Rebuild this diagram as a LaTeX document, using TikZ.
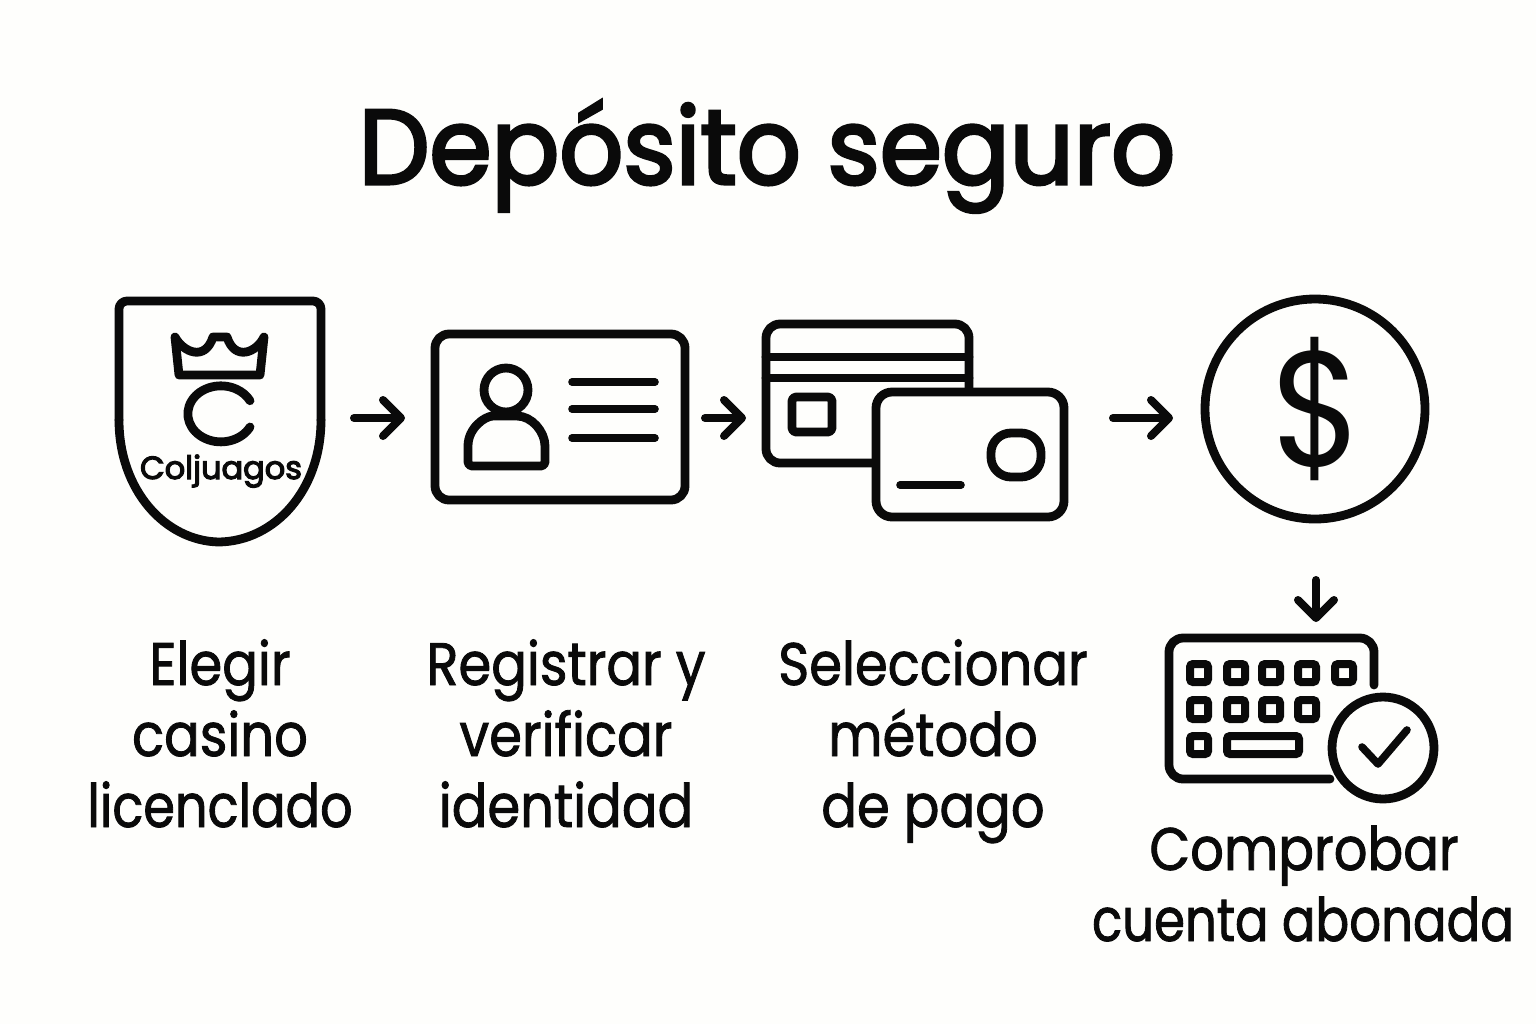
\documentclass[tikz,border=0pt]{standalone}
\usepackage{fontspec}
\setmainfont{Poppins}
\newfontfamily\titlefont{Poppins}[FakeBold=3.0,FakeStretch=0.945]
\newfontfamily\labelfont{Poppins}[FakeBold=1.4,FakeStretch=0.88]
\newfontfamily\narrowlabelfont{Poppins}[FakeBold=1.4,FakeStretch=0.85]
\newfontfamily\widelabelfont{Poppins}[FakeBold=1.4,FakeStretch=0.83]
\newfontfamily\brandfont{Poppins}[FakeBold=3.6,FakeStretch=1.0]
\newfontfamily\coinfont{Poppins}[FakeStretch=0.9]
\usetikzlibrary{arrows.meta}
\definecolor{bg}{HTML}{FEFEFC}
\definecolor{ink}{HTML}{0A0A0A}
\tikzset{
  px/.style={x=0.5pt,y=-0.5pt},
  icon/.style={draw=ink,line width=4.4pt,line join=round,line cap=round},
  thinicon/.style={draw=ink,line width=3.8pt,line join=round,line cap=round},
  flow/.style={draw=ink,line width=4pt,line cap=round,line join=round,-{Straight Barb[length=9pt,width=18pt,line cap=round,line join=round]}},
  keycap/.style={draw=ink,line width=4pt,rounded corners=1.5pt},
  lbl/.style={text=ink,font=\labelfont\fontsize{30}{36}\selectfont,align=center,inner sep=0pt,anchor=base},
  lblnarrow/.style={lbl,font=\narrowlabelfont\fontsize{30}{36}\selectfont},
  lblwide/.style={lbl,font=\widelabelfont\fontsize{30}{36}\selectfont},
}
\begin{document}
\begin{tikzpicture}[px]
\useasboundingbox[fill=bg] (0,0) rectangle (1536,1024);
% title
\node[text=ink,font=\titlefont\fontsize{53}{60}\selectfont,inner sep=0pt,anchor=base] (title) at (767,184) {Depósito seguro};
% shield
\draw[icon,rounded corners=4pt] (119,420) -- (119,301) -- (321,301) -- (321,420);
\draw[icon] (321,420) .. controls (321,490) and (275,541) .. (219,542) .. controls (165,541) and (119,490) .. (119,420);
\draw[icon] (175,337) .. controls (183,352) and (205,362) .. (213,337) -- (227,337) .. controls (235,362) and (257,352) .. (264,337) -- (260,375) -- (179,375) -- cycle;
\draw[icon] (250,427) arc[start angle=28,end angle=332,x radius=33,y radius=28];
\node[text=ink,font=\brandfont\fontsize{16}{18}\selectfont,inner sep=0pt,anchor=base] (brand) at (221,479) {Coljuagos};
% id card
\draw[icon,rounded corners=7pt] (435,334) rectangle (685,500);
\draw[icon] (506,390) circle[radius=22];
\draw[icon,rounded corners=2pt] (468,466) -- (468,450) .. controls (468,428) and (485,416) .. (497,416) -- (513,416) .. controls (532,416) and (545,432) .. (545,450) -- (545,466) -- cycle;
\draw[thinicon] (572,382) -- (655,382);
\draw[thinicon] (572,409) -- (655,409);
\draw[thinicon] (572,438) -- (655,438);
% cards
\draw[icon,rounded corners=7pt] (766,324) rectangle (969,463);
\draw[icon] (766,357) -- (969,357);
\draw[icon] (766,378) -- (969,378);
\draw[icon,rounded corners=2pt] (792,397) rectangle (832,432);
\draw[icon,fill=bg,rounded corners=8pt] (876,392) rectangle (1064,517);
\draw[icon,rounded corners=10pt] (991,433) rectangle (1041,477);
\draw[thinicon] (900,485) -- (961,485);
% coin
\draw[icon] (1315,409) circle[radius=110];
\node[text=ink,font=\coinfont\fontsize{82}{90}\selectfont,inner sep=0pt] (dollar) at (1317,409) {\$};
% keyboard
\draw[icon,rounded corners=7pt] (1374,685) -- (1374,638) -- (1169,638) -- (1169,779) -- (1330,779);
\foreach \kx in {1199,1236,1271,1307,1344} \draw[keycap] (\kx-9,664) rectangle (\kx+9,682);
\foreach \kx in {1199,1236,1271,1307} \draw[keycap] (\kx-9,700) rectangle (\kx+9,719);
\draw[keycap] (1190,736) rectangle (1208,754);
\draw[keycap] (1227,736) rectangle (1299,754);
\draw[icon] (1383,748) circle[radius=51];
\draw[thinicon] (1362,747) -- (1378,764) -- (1407,730);
% labels
\node[lbl] (l1) at (220,685) {Elegir};
\node[lbl] (l2) at (220,756) {casino};
\node[lblnarrow] (l3) at (220,827) {licenclado};
\node[lbl] (m1) at (566,685) {Registrar y};
\node[lbl] (m2) at (566,756) {verificar};
\node[lbl] (m3) at (566,827) {identidad};
\node[lbl] (n1) at (933,685) {Seleccionar};
\node[lbl] (n2) at (933,756) {método};
\node[lbl] (n3) at (933,827) {de pago};
\node[lbl] (o1) at (1304,870) {Comprobar};
\node[lblwide] (o2) at (1303,941) {cuenta abonada};
% connectors
\coordinate (a1s) at (354,418); \coordinate (a1e) at (405,418);
\coordinate (a2s) at (705,418); \coordinate (a2e) at (746,418);
\coordinate (a3s) at (1113,418); \coordinate (a3e) at (1173,418);
\coordinate (a4s) at (1316,580); \coordinate (a4e) at (1316,622);
\draw[flow] (a1s) -- (a1e);
\draw[flow] (a2s) -- (a2e);
\draw[flow] (a3s) -- (a3e);
\draw[flow] (a4s) -- (a4e);
\end{tikzpicture}
\end{document}
